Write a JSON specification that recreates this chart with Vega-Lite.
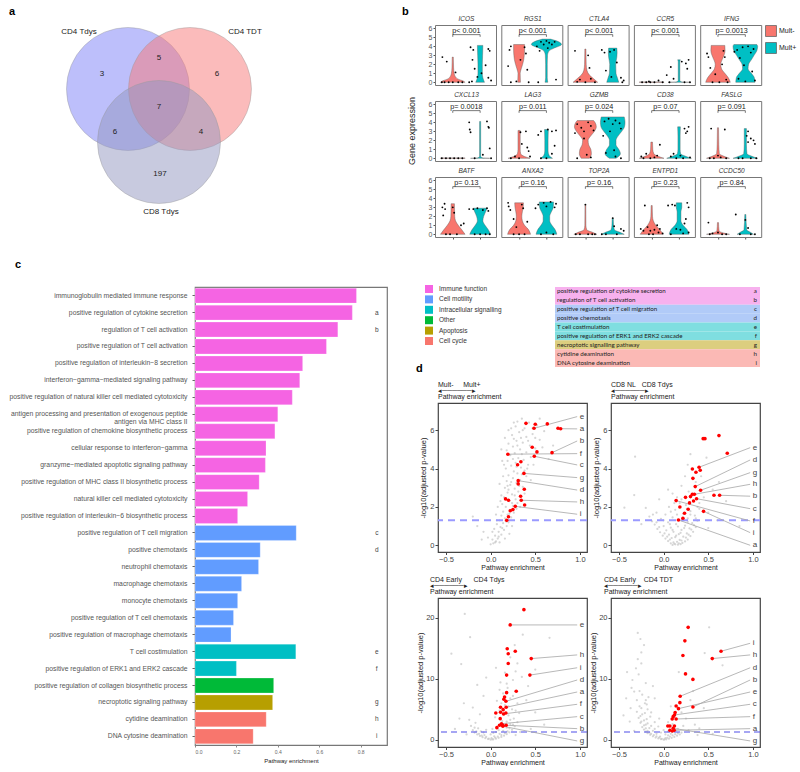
{
"$schema":"https://vega.github.io/schema/vega-lite/v6.json",
"padding":{"left":8,"top":0,"right":0,"bottom":0},
"background":"white",
"config":{
 "font":"Liberation Sans",
 "view":{"stroke":null},
 "axis":{"labelFont":"Liberation Sans","titleFont":"Liberation Sans","grid":false,"labelOverlap":false},
 "legend":{"labelFont":"Liberation Sans","titleFont":"Liberation Sans"},
 "header":{"labels":false,"title":null},
 "headerFacet":{"labels":false,"title":null},
 "title":{"font":"Liberation Sans","fontSize":11,"fontWeight":"bold","anchor":"start","frame":"group","color":"#000"}
},
"datasets":{
 "g1":[{"x":0.0,"y":0.05},{"x":0.03,"y":0.1},{"x":0.06,"y":0.2},{"x":0.02,"y":0.3},{"x":0.08,"y":0.35},{"x":0.1,"y":0.15},{"x":-0.03,"y":0.4},{"x":0.05,"y":0.5},{"x":0.12,"y":0.55},{"x":-0.08,"y":0.7},{"x":0.09,"y":0.7},{"x":0.15,"y":0.8},{"x":0.04,"y":0.85},{"x":0.11,"y":0.95},{"x":0.18,"y":1.0},{"x":-0.15,"y":1.0},{"x":0.07,"y":1.1},{"x":0.14,"y":1.15},{"x":0.2,"y":1.2},{"x":0.1,"y":1.3},{"x":0.16,"y":1.4},{"x":0.23,"y":1.45},{"x":0.12,"y":1.55},{"x":0.19,"y":1.6},{"x":0.26,"y":1.7},{"x":0.14,"y":1.75},{"x":0.22,"y":1.85},{"x":0.29,"y":1.9},{"x":0.17,"y":2.0},{"x":0.25,"y":2.05},{"x":0.13,"y":2.15},{"x":0.3,"y":2.2},{"x":0.21,"y":2.3},{"x":0.28,"y":2.4},{"x":0.15,"y":2.5},{"x":0.34,"y":2.55},{"x":0.24,"y":2.65},{"x":0.19,"y":2.75},{"x":0.31,"y":2.8},{"x":0.27,"y":2.95},{"x":0.16,"y":3.0},{"x":0.36,"y":3.05},{"x":0.22,"y":3.15},{"x":0.29,"y":3.25},{"x":0.18,"y":3.35},{"x":0.33,"y":3.4},{"x":0.25,"y":3.5},{"x":0.4,"y":3.6},{"x":0.2,"y":3.65},{"x":0.3,"y":3.75},{"x":0.26,"y":3.85},{"x":0.38,"y":3.9},{"x":0.17,"y":4.0},{"x":0.34,"y":4.05},{"x":0.23,"y":4.15},{"x":0.42,"y":4.2},{"x":0.28,"y":4.3},{"x":0.19,"y":4.4},{"x":0.37,"y":4.45},{"x":0.31,"y":4.55},{"x":0.45,"y":4.6},{"x":0.22,"y":4.7},{"x":0.27,"y":4.8},{"x":0.4,"y":4.85},{"x":0.18,"y":4.95},{"x":0.33,"y":5.0},{"x":0.5,"y":5.05},{"x":0.25,"y":5.15},{"x":0.44,"y":5.2},{"x":0.2,"y":5.3},{"x":0.36,"y":5.35},{"x":0.29,"y":5.45},{"x":0.55,"y":5.5},{"x":0.16,"y":5.6},{"x":0.4,"y":5.65},{"x":0.24,"y":5.75},{"x":0.47,"y":5.8},{"x":0.32,"y":5.9},{"x":0.6,"y":5.95},{"x":0.2,"y":6.0},{"x":0.38,"y":6.1},{"x":0.28,"y":6.2},{"x":0.52,"y":6.25},{"x":0.43,"y":6.4},{"x":0.35,"y":6.6},{"x":0.7,"y":5.2},{"x":0.65,"y":4.5},{"x":-0.2,"y":1.5},{"x":-0.1,"y":0.3},{"x":0.55,"y":6.6},{"x":0.12,"y":5.0},{"x":0.1,"y":3.2},{"x":0.08,"y":2.0},{"x":0.21,"y":0.6},{"x":0.24,"y":1.0},{"x":0.06,"y":1.6},{"x":0.33,"y":2.0},{"x":0.12,"y":2.6},{"x":0.38,"y":2.7},{"x":0.14,"y":3.6},{"x":0.45,"y":3.4},{"x":0.13,"y":4.4},{"x":0.48,"y":4.2},{"x":0.26,"y":6.4},{"x":0.58,"y":5.1},
  {"x":0.05,"y":0.15},{"x":0.09,"y":0.45},{"x":0.13,"y":0.9},{"x":0.17,"y":1.25},{"x":0.21,"y":1.65},{"x":0.24,"y":2.2},{"x":0.27,"y":2.6},{"x":0.2,"y":2.9},{"x":0.32,"y":3.1},{"x":0.23,"y":3.3},{"x":0.35,"y":3.7},{"x":0.29,"y":4.1},{"x":0.25,"y":4.5},{"x":0.35,"y":4.75},{"x":0.3,"y":5.2},{"x":0.42,"y":5.45},{"x":0.26,"y":5.55},{"x":0.36,"y":6.0},{"x":0.47,"y":6.1},{"x":0.3,"y":6.45},{"x":0.15,"y":4.2},{"x":0.19,"y":3.1},{"x":0.11,"y":2.3},{"x":0.07,"y":1.3},{"x":0.02,"y":0.7},{"x":0.16,"y":0.35},{"x":0.41,"y":4.0},{"x":0.5,"y":5.6},{"x":0.23,"y":6.1},{"x":0.34,"y":5.6}],
 "r1":[{"x":0.396,"y":6.36},{"x":0.5,"y":6.31},{"x":0.635,"y":6.33},{"x":0.486,"y":6.1},{"x":0.755,"y":6.1},{"x":0.785,"y":6.08},{"x":0.466,"y":5.11},{"x":0.519,"y":4.87},{"x":0.193,"y":4.75},{"x":0.489,"y":4.64},{"x":0.688,"y":4.83},{"x":0.339,"y":4.36},{"x":0.302,"y":4.2},{"x":0.373,"y":3.75},{"x":0.309,"y":3.37},{"x":0.309,"y":3.2},{"x":0.377,"y":2.92},{"x":0.336,"y":2.56},{"x":0.343,"y":2.35},{"x":0.167,"y":2.42},{"x":0.2,"y":2.35},{"x":0.381,"y":2.1},{"x":0.276,"y":2.03},{"x":0.25,"y":1.86},{"x":0.22,"y":1.8},{"x":0.2,"y":1.49},{"x":0.18,"y":1.3}],
 "l1":[{"lab":"e","x":0.486,"y":6.1,"ly":6.71},{"lab":"a","x":0.785,"y":6.08,"ly":6.07},{"lab":"b","x":0.688,"y":4.83,"ly":5.44},{"lab":"f","x":0.193,"y":4.75,"ly":4.78},{"lab":"c","x":0.489,"y":4.64,"ly":4.19},{"lab":"g","x":0.373,"y":3.75,"ly":3.53},{"lab":"d","x":0.309,"y":3.37,"ly":2.88},{"lab":"h","x":0.343,"y":2.35,"ly":2.26},{"lab":"i","x":0.276,"y":2.03,"ly":1.62}],
 "g2":[{"x":0.1,"y":0.02},{"x":0.13,"y":0.05},{"x":0.16,"y":0.03},{"x":0.19,"y":0.06},{"x":0.08,"y":0.1},{"x":0.21,"y":0.12},{"x":0.11,"y":0.15},{"x":0.15,"y":0.18},{"x":0.05,"y":0.22},{"x":0.24,"y":0.2},{"x":0.18,"y":0.28},{"x":0.02,"y":0.35},{"x":0.27,"y":0.3},{"x":0.09,"y":0.38},{"x":0.13,"y":0.42},{"x":0.22,"y":0.45},{"x":-0.01,"y":0.5},{"x":0.3,"y":0.48},{"x":0.06,"y":0.55},{"x":0.17,"y":0.58},{"x":0.26,"y":0.62},{"x":-0.04,"y":0.68},{"x":0.11,"y":0.7},{"x":0.33,"y":0.7},{"x":0.03,"y":0.78},{"x":0.2,"y":0.8},{"x":-0.07,"y":0.85},{"x":0.29,"y":0.88},{"x":0.08,"y":0.92},{"x":0.36,"y":0.95},{"x":0.0,"y":1.0},{"x":0.24,"y":1.02},{"x":-0.1,"y":1.08},{"x":0.14,"y":1.1},{"x":0.32,"y":1.15},{"x":0.05,"y":1.2},{"x":-0.13,"y":1.25},{"x":0.38,"y":1.28},{"x":0.18,"y":1.3},{"x":-0.03,"y":1.38},{"x":0.27,"y":1.4},{"x":0.1,"y":1.45},{"x":-0.16,"y":1.5},{"x":0.35,"y":1.55},{"x":0.02,"y":1.6},{"x":0.22,"y":1.65},{"x":-0.08,"y":1.7},{"x":0.3,"y":1.78},{"x":0.13,"y":1.85},{"x":0.4,"y":1.9},{"x":-0.2,"y":1.95},{"x":0.06,"y":2.0},{"x":0.25,"y":2.1},{"x":0.18,"y":2.2},{"x":0.33,"y":2.3},{"x":-0.05,"y":2.4},{"x":0.45,"y":2.5},{"x":0.1,"y":2.7},{"x":0.28,"y":2.8},{"x":0.5,"y":1.7},{"x":0.62,"y":3.3},{"x":0.7,"y":2.3},{"x":-0.33,"y":2.62},{"x":-0.32,"y":4.62},{"x":-0.44,"y":1.96},{"x":0.3,"y":4.75},{"x":0.48,"y":4.57},{"x":0.24,"y":3.6},{"x":0.36,"y":3.3},{"x":0.2,"y":3.1},{"x":0.42,"y":3.6},{"x":0.55,"y":2.9},{"x":0.15,"y":2.5},{"x":0.6,"y":1.3},{"x":0.85,"y":1.0},{"x":-0.25,"y":1.1},{"x":0.5,"y":0.9},{"x":0.38,"y":2.0},{"x":0.05,"y":2.9},{"x":0.27,"y":4.2},
  {"x":0.12,"y":0.08},{"x":0.17,"y":0.1},{"x":0.2,"y":0.25},{"x":0.07,"y":0.3},{"x":0.25,"y":0.4},{"x":0.14,"y":0.5},{"x":0.04,"y":0.45},{"x":0.28,"y":0.55},{"x":0.19,"y":0.65},{"x":0.01,"y":0.62},{"x":0.1,"y":0.8},{"x":0.31,"y":0.82},{"x":0.23,"y":0.9},{"x":-0.05,"y":0.95},{"x":0.16,"y":0.98},{"x":0.34,"y":1.05},{"x":0.07,"y":1.1},{"x":-0.08,"y":1.2},{"x":0.27,"y":1.22},{"x":0.21,"y":1.35},{"x":0.0,"y":1.3},{"x":0.36,"y":1.4},{"x":0.15,"y":1.6},{"x":-0.12,"y":1.6},{"x":0.3,"y":1.6},{"x":0.08,"y":1.75},{"x":0.26,"y":1.9},{"x":0.2,"y":2.4},{"x":0.4,"y":2.2},{"x":0.12,"y":2.2}],
 "r2":[{"x":0.443,"y":5.56},{"x":0.463,"y":5.56},{"x":0.62,"y":5.72},{"x":0.713,"y":4.8},{"x":0.322,"y":3.98},{"x":0.397,"y":4.07},{"x":0.41,"y":3.91},{"x":0.362,"y":3.81},{"x":0.328,"y":3.49},{"x":0.354,"y":3.06},{"x":0.414,"y":2.87},{"x":0.322,"y":2.66},{"x":0.345,"y":2.66},{"x":0.564,"y":2.61},{"x":0.627,"y":2.61},{"x":0.301,"y":2.54},{"x":0.369,"y":2.43},{"x":0.335,"y":2.31},{"x":0.29,"y":2.21},{"x":0.14,"y":2.33},{"x":0.245,"y":2.5},{"x":0.182,"y":2.0},{"x":0.275,"y":1.88},{"x":0.447,"y":1.77},{"x":0.234,"y":1.67},{"x":0.216,"y":1.41},{"x":0.166,"y":1.32}],
 "l2":[{"lab":"e","x":0.397,"y":4.07,"ly":5.09},{"lab":"d","x":0.354,"y":3.06,"ly":4.45},{"lab":"g","x":0.414,"y":2.87,"ly":3.79},{"lab":"h","x":0.345,"y":2.66,"ly":3.18},{"lab":"b","x":0.627,"y":2.61,"ly":2.56},{"lab":"c","x":0.369,"y":2.43,"ly":1.91},{"lab":"f","x":0.14,"y":2.33,"ly":1.27},{"lab":"i","x":0.447,"y":1.77,"ly":0.66},{"lab":"a","x":0.166,"y":1.32,"ly":0.0}],
 "g3":[{"x":0.0,"y":0.05},{"x":0.03,"y":0.1},{"x":-0.03,"y":0.15},{"x":0.06,"y":0.2},{"x":-0.06,"y":0.3},{"x":0.09,"y":0.35},{"x":-0.09,"y":0.45},{"x":0.12,"y":0.5},{"x":0.01,"y":0.3},{"x":-0.12,"y":0.65},{"x":0.15,"y":0.7},{"x":0.04,"y":0.6},{"x":-0.15,"y":0.9},{"x":0.18,"y":0.95},{"x":-0.07,"y":0.8},{"x":0.1,"y":1.0},{"x":-0.18,"y":1.2},{"x":0.21,"y":1.25},{"x":0.06,"y":1.3},{"x":-0.11,"y":1.4},{"x":0.14,"y":1.5},{"x":-0.2,"y":1.6},{"x":0.24,"y":1.65},{"x":0.02,"y":1.8},{"x":-0.14,"y":1.9},{"x":0.18,"y":2.0},{"x":0.27,"y":2.2},{"x":-0.22,"y":2.3},{"x":0.09,"y":2.4},{"x":0.22,"y":2.6},{"x":-0.17,"y":2.8},{"x":0.3,"y":2.9},{"x":0.13,"y":3.1},{"x":-0.24,"y":3.3},{"x":0.26,"y":3.5},{"x":0.05,"y":3.7},{"x":0.2,"y":4.0},{"x":-0.12,"y":4.2},{"x":0.32,"y":4.4},{"x":0.1,"y":4.8},{"x":0.24,"y":5.0},{"x":-0.2,"y":5.3},{"x":0.16,"y":5.7},{"x":0.3,"y":6.0},{"x":0.07,"y":6.4},{"x":0.22,"y":6.8},{"x":-0.08,"y":7.2},{"x":0.14,"y":7.6},{"x":0.28,"y":8.0},{"x":0.19,"y":8.5},{"x":-0.15,"y":9.0},{"x":0.11,"y":9.4},{"x":0.25,"y":9.8},{"x":0.35,"y":10.3},{"x":0.16,"y":11.0},{"x":0.06,"y":11.8},{"x":0.3,"y":12.5},{"x":0.22,"y":13.5},{"x":-0.33,"y":12.4},{"x":-0.44,"y":14.1},{"x":-0.23,"y":16.8},{"x":-0.29,"y":20.6},{"x":0.36,"y":17.2},{"x":0.66,"y":16.7},{"x":0.27,"y":15.5},{"x":0.5,"y":11.5},{"x":0.42,"y":8.8},{"x":-0.05,"y":10.2},{"x":0.4,"y":6.5},{"x":0.5,"y":4.5},{"x":-0.3,"y":6.0},{"x":-0.35,"y":3.5},{"x":0.6,"y":2.5},{"x":-0.4,"y":1.8},{"x":0.33,"y":1.3},{"x":0.45,"y":1.8},{"x":-0.27,"y":0.9},{"x":0.28,"y":0.8},
  {"x":0.02,"y":0.08},{"x":-0.02,"y":0.2},{"x":0.05,"y":0.4},{"x":-0.05,"y":0.5},{"x":0.08,"y":0.55},{"x":-0.1,"y":0.7},{"x":0.12,"y":0.8},{"x":0.0,"y":0.9},{"x":-0.13,"y":1.0},{"x":0.16,"y":1.1},{"x":0.03,"y":1.15},{"x":-0.08,"y":1.2},{"x":0.19,"y":1.4},{"x":-0.16,"y":1.4},{"x":0.09,"y":1.6},{"x":-0.05,"y":1.65},{"x":0.21,"y":1.9},{"x":-0.18,"y":2.0},{"x":0.15,"y":2.3},{"x":0.25,"y":2.5},{"x":0.18,"y":3.0},{"x":0.22,"y":3.3},{"x":0.15,"y":4.2},{"x":0.28,"y":4.8},{"x":0.2,"y":5.5},{"x":0.12,"y":6.0},{"x":0.25,"y":7.2},{"x":0.1,"y":8.2},{"x":0.18,"y":9.2},{"x":0.28,"y":11.2}],
 "r3":[{"x":0.373,"y":21.3},{"x":0.219,"y":18.8},{"x":0.186,"y":14.9},{"x":0.276,"y":14.5},{"x":0.197,"y":14.1},{"x":0.197,"y":12.5},{"x":0.455,"y":13.3},{"x":0.44,"y":10.6},{"x":0.179,"y":10.6},{"x":0.287,"y":7.95},{"x":0.179,"y":7.73},{"x":0.156,"y":7.03},{"x":0.148,"y":6.65},{"x":0.171,"y":6.32},{"x":0.111,"y":5.34},{"x":0.174,"y":5.34},{"x":0.14,"y":4.95},{"x":0.058,"y":4.41},{"x":0.111,"y":4.52},{"x":0.145,"y":4.25},{"x":0.171,"y":4.41},{"x":0.107,"y":3.48},{"x":0.122,"y":2.66},{"x":0.137,"y":2.4},{"x":0.174,"y":2.4},{"x":0.1,"y":2.4},{"x":0.07,"y":2.01},{"x":0.137,"y":2.24}],
 "l3":[{"lab":"e","x":0.219,"y":18.8,"ly":18.8},{"lab":"h","x":0.455,"y":13.3,"ly":13.9},{"lab":"i","x":0.44,"y":10.6,"ly":11.8},{"lab":"d","x":0.171,"y":6.32,"ly":9.8},{"lab":"a","x":0.174,"y":5.34,"ly":7.84},{"lab":"f","x":0.145,"y":4.25,"ly":5.83},{"lab":"c","x":0.122,"y":2.66,"ly":3.81},{"lab":"b","x":0.174,"y":2.4,"ly":1.85},{"lab":"g","x":0.137,"y":2.24,"ly":-0.16}],
 "g4":[{"x":0.0,"y":0.05},{"x":0.03,"y":0.1},{"x":-0.03,"y":0.12},{"x":0.06,"y":0.2},{"x":-0.06,"y":0.25},{"x":0.09,"y":0.35},{"x":-0.09,"y":0.4},{"x":0.12,"y":0.5},{"x":0.02,"y":0.3},{"x":-0.12,"y":0.6},{"x":0.15,"y":0.7},{"x":-0.04,"y":0.55},{"x":-0.15,"y":0.85},{"x":0.18,"y":0.9},{"x":0.05,"y":0.75},{"x":-0.18,"y":1.1},{"x":0.08,"y":1.0},{"x":-0.08,"y":1.0},{"x":0.2,"y":1.2},{"x":-0.2,"y":1.35},{"x":-0.12,"y":1.5},{"x":0.12,"y":1.45},{"x":-0.22,"y":1.7},{"x":0.0,"y":1.6},{"x":-0.16,"y":1.95},{"x":0.16,"y":1.8},{"x":-0.24,"y":2.1},{"x":-0.06,"y":2.2},{"x":-0.2,"y":2.5},{"x":0.22,"y":2.3},{"x":-0.26,"y":2.8},{"x":-0.1,"y":2.9},{"x":-0.22,"y":3.2},{"x":-0.28,"y":3.6},{"x":-0.15,"y":3.8},{"x":-0.24,"y":4.2},{"x":-0.3,"y":4.6},{"x":-0.18,"y":5.0},{"x":-0.27,"y":5.5},{"x":-0.21,"y":6.0},{"x":-0.19,"y":5.8},{"x":-0.3,"y":6.5},{"x":-0.24,"y":7.4},{"x":-0.17,"y":7.0},{"x":-0.33,"y":7.9},{"x":-0.36,"y":8.5},{"x":-0.2,"y":9.3},{"x":-0.28,"y":10.7},{"x":-0.31,"y":11.7},{"x":-0.41,"y":11.1},{"x":-0.25,"y":12.5},{"x":-0.29,"y":13.2},{"x":-0.25,"y":14.3},{"x":-0.26,"y":16.5},{"x":-0.29,"y":17.5},{"x":-0.22,"y":15.5},{"x":-0.35,"y":9.8},{"x":-0.14,"y":4.5},{"x":0.17,"y":11.1},{"x":0.46,"y":14.2},{"x":0.51,"y":18.4},{"x":0.66,"y":12.2},{"x":0.3,"y":6.5},{"x":0.25,"y":3.5},{"x":0.35,"y":2.5},{"x":0.1,"y":2.6},{"x":0.28,"y":1.6},{"x":0.4,"y":1.9},{"x":-0.45,"y":4.0},{"x":-0.38,"y":3.0},{"x":0.05,"y":2.9},{"x":0.2,"y":4.5},{"x":0.55,"y":1.0},{"x":-0.33,"y":1.5},{"x":0.38,"y":0.8},{"x":-0.1,"y":6.8},{"x":-0.12,"y":8.8},{"x":-0.05,"y":3.5},{"x":0.12,"y":3.8},{"x":-0.37,"y":5.2},{"x":-0.42,"y":6.8},{"x":0.33,"y":8.0},{"x":0.08,"y":5.5},{"x":0.45,"y":5.2},
  {"x":0.01,"y":0.08},{"x":-0.02,"y":0.18},{"x":0.04,"y":0.35},{"x":-0.05,"y":0.4},{"x":0.07,"y":0.55},{"x":-0.08,"y":0.6},{"x":0.1,"y":0.75},{"x":-0.11,"y":0.8},{"x":0.13,"y":0.95},{"x":-0.14,"y":1.0},{"x":0.02,"y":0.9},{"x":-0.03,"y":1.2},{"x":0.16,"y":1.1},{"x":-0.16,"y":1.2},{"x":0.1,"y":1.3},{"x":-0.18,"y":1.5},{"x":0.05,"y":1.4},{"x":-0.1,"y":1.8},{"x":0.14,"y":1.6},{"x":-0.2,"y":1.9},{"x":-0.14,"y":2.3},{"x":-0.22,"y":2.4},{"x":-0.18,"y":2.7},{"x":-0.25,"y":3.0},{"x":-0.19,"y":3.4},{"x":-0.26,"y":3.9},{"x":-0.21,"y":4.4},{"x":-0.25,"y":5.2},{"x":-0.2,"y":6.5},{"x":-0.27,"y":8.0}],
 "r4":[{"x":0.275,"y":18.4},{"x":0.238,"y":16.2},{"x":0.643,"y":14.5},{"x":0.216,"y":13.8},{"x":0.545,"y":13.3},{"x":0.245,"y":10.8},{"x":0.328,"y":9.9},{"x":0.185,"y":7.14},{"x":0.182,"y":6.1},{"x":0.14,"y":5.56},{"x":0.166,"y":5.12},{"x":0.328,"y":5.39},{"x":0.129,"y":4.47},{"x":0.121,"y":4.08},{"x":0.107,"y":3.81},{"x":0.14,"y":3.43},{"x":0.096,"y":3.43},{"x":0.121,"y":2.29},{"x":0.047,"y":2.29},{"x":0.07,"y":2.29},{"x":0.107,"y":1.91},{"x":0.07,"y":1.58},{"x":0.118,"y":1.58},{"x":0.096,"y":1.47}],
 "l4":[{"lab":"i","x":0.643,"y":14.5,"ly":15.8},{"lab":"h","x":0.545,"y":13.3,"ly":13.9},{"lab":"d","x":0.185,"y":7.14,"ly":11.8},{"lab":"b","x":0.328,"y":5.39,"ly":9.8},{"lab":"e","x":0.166,"y":5.12,"ly":7.84},{"lab":"c","x":0.121,"y":4.08,"ly":5.83},{"lab":"f","x":0.14,"y":3.43,"ly":3.81},{"lab":"a","x":0.118,"y":1.58,"ly":1.85},{"lab":"g","x":0.107,"y":1.91,"ly":-0.16}]
},
"hconcat":[
 {
  "vconcat":[
   {
    "width":192,"height":250,
    "title":{"text":"a","dx":-186,"dy":17,"offset":0},
    "data":{"values":[
     {"k":"c","s":"CD4 Tdys","x":2.048,"y":1.435},
     {"k":"c","s":"CD4 TDT","x":3.048,"y":1.435},
     {"k":"c","s":"CD8 Tdys","x":2.548,"y":2.29},
     {"k":"t","s":"CD4 Tdys","x":1.258,"y":0.516},
     {"k":"t","s":"CD4 TDT","x":3.935,"y":0.516},
     {"k":"t","s":"CD8 Tdys","x":2.58,"y":3.42},
     {"k":"n","s":"3","x":1.629,"y":1.194},
     {"k":"n","s":"5","x":2.548,"y":0.935},
     {"k":"n","s":"6","x":3.484,"y":1.194},
     {"k":"n","s":"7","x":2.548,"y":1.726},
     {"k":"n","s":"6","x":1.839,"y":2.129},
     {"k":"n","s":"4","x":3.226,"y":2.129},
     {"k":"n","s":"197","x":2.565,"y":2.806}
    ]},
    "layer":[
     {"transform":[{"filter":"datum.k=='c'"}],
      "mark":{"type":"point","shape":"circle","filled":true,"size":15129,"fillOpacity":0.5,"stroke":"#9a9a9a","strokeWidth":0.6,"strokeOpacity":0.7,"clip":false},
      "encoding":{
       "x":{"field":"x","type":"quantitative","scale":{"domain":[3.129,6.226],"nice":false,"zero":false},"axis":null},
       "y":{"field":"y","type":"quantitative","scale":{"domain":[0,4.032],"reverse":true,"nice":false,"zero":false},"axis":null},
       "color":{"field":"s","type":"nominal","scale":{"domain":["CD4 Tdys","CD4 TDT","CD8 Tdys"],"range":["#7b7ff7","#f77777","#9195bf"]},"legend":null}
      }},
     {"transform":[{"filter":"datum.k!='c'"}],
      "mark":{"type":"text","fontSize":8,"color":"#222","baseline":"middle","clip":false},
      "encoding":{
       "x":{"field":"x","type":"quantitative"},
       "y":{"field":"y","type":"quantitative"},
       "text":{"field":"s"}
      }}
    ]
   },
   {
    "width":192,"height":458,
    "title":{"text":"c","dx":-180,"offset":17},
    "view":{"stroke":"#777","strokeWidth":1.2},
    "data":{"values":[
     {"term":"immunoglobulin mediated immune response","cat":"Immune function","v":0.78,"lab":""},
     {"term":"positive regulation of cytokine secretion","cat":"Immune function","v":0.76,"lab":"a"},
     {"term":"regulation of T cell activation","cat":"Immune function","v":0.69,"lab":"b"},
     {"term":"positive regulation of T cell activation","cat":"Immune function","v":0.635,"lab":""},
     {"term":"positive regulation of interleukin−8 secretion","cat":"Immune function","v":0.52,"lab":""},
     {"term":"interferon−gamma−mediated signaling pathway","cat":"Immune function","v":0.506,"lab":""},
     {"term":"positive regulation of natural killer cell mediated cytotoxicity","cat":"Immune function","v":0.47,"lab":""},
     {"term":"antigen processing and presentation of exogenous peptide\nantigen via MHC class II","cat":"Immune function","v":0.4,"lab":""},
     {"term":"positive regulation of chemokine biosynthetic process","cat":"Immune function","v":0.386,"lab":""},
     {"term":"cellular response to interferon−gamma","cat":"Immune function","v":0.343,"lab":""},
     {"term":"granzyme−mediated apoptotic signaling pathway","cat":"Immune function","v":0.34,"lab":""},
     {"term":"positive regulation of MHC class II biosynthetic process","cat":"Immune function","v":0.31,"lab":""},
     {"term":"natural killer cell mediated cytotoxicity","cat":"Immune function","v":0.254,"lab":""},
     {"term":"positive regulation of interleukin−6 biosynthetic process","cat":"Immune function","v":0.206,"lab":""},
     {"term":"positive regulation of T cell migration","cat":"Cell motility","v":0.489,"lab":"c"},
     {"term":"positive chemotaxis","cat":"Cell motility","v":0.315,"lab":"d"},
     {"term":"neutrophil chemotaxis","cat":"Cell motility","v":0.307,"lab":""},
     {"term":"macrophage chemotaxis","cat":"Cell motility","v":0.225,"lab":""},
     {"term":"monocyte chemotaxis","cat":"Cell motility","v":0.206,"lab":""},
     {"term":"positive regulation of T cell chemotaxis","cat":"Cell motility","v":0.186,"lab":""},
     {"term":"positive regulation of macrophage chemotaxis","cat":"Cell motility","v":0.174,"lab":""},
     {"term":"T cell costimulation","cat":"Intracellular signalling","v":0.487,"lab":"e"},
     {"term":"positive regulation of ERK1 and ERK2 cascade","cat":"Intracellular signalling","v":0.2,"lab":"f"},
     {"term":"positive regulation of collagen biosynthetic process","cat":"Other","v":0.38,"lab":""},
     {"term":"necroptotic signaling pathway","cat":"Apoptosis","v":0.375,"lab":"g"},
     {"term":"cytidine deamination","cat":"Cell cycle","v":0.344,"lab":"h"},
     {"term":"DNA cytosine deamination","cat":"Cell cycle","v":0.281,"lab":"i"}
    ]},
    "layer":[
     {"mark":{"type":"bar","stroke":"white","strokeWidth":0.4,"strokeOpacity":0.6},
      "encoding":{
       "y":{"field":"term","type":"nominal","sort":null,"scale":{"paddingInner":0.12,"paddingOuter":0.07},
            "axis":{"title":null,"labelFontSize":6.8,"labelColor":"#555","labelLimit":400,"tickSize":3,"tickColor":"#666","domain":false,"labelPadding":5,"labelLineHeight":8,"labelExpr":"split(datum.label, '\\n')"}},
       "x":{"field":"v","type":"quantitative","scale":{"domain":[0,0.9275],"nice":false,"zero":false},
            "axis":{"values":[0,0.2,0.4,0.6,0.8],"format":".1f","labelFontSize":5,"labelColor":"#666","tickSize":2,"tickColor":"#888","domain":false,"title":"Pathway enrichment","titleFontSize":6,"titleFontWeight":"normal","titleColor":"#222","titlePadding":3,"labelPadding":2}},
       "color":{"field":"cat","type":"nominal","scale":{"domain":["Immune function","Cell motility","Intracellular signalling","Other","Apoptosis","Cell cycle"],"range":["#F564E3","#619CFF","#00BFC4","#00BA38","#B79F00","#F8766D"]},"legend":null}
      }},
     {"mark":{"type":"text","fontSize":6.5,"color":"#444","baseline":"middle"},
      "encoding":{
       "y":{"field":"term","type":"nominal","sort":null},
       "x":{"datum":0.878},
       "text":{"field":"lab"}
      }}
    ]
   }
  ],
  "spacing":8,"bounds":"full",
  "resolve":{"scale":{"color":"independent"},"legend":{"color":"independent"}}
 },
 {
  "vconcat":[
   {"data":{"values":[{}]},"mark":{"type":"point","opacity":0,"size":1},"width":1,"height":4},
   {
    "hconcat":[
     {"width":46,"height":212,"title":{"text":"b","dx":13,"offset":7},
      "data":{"values":[{"t":"Gene expression"}]},
      "mark":{"type":"text","angle":270,"fontSize":9,"color":"#222","baseline":"middle"},
      "encoding":{
       "text":{"field":"t"},
       "y":{"datum":11.48,"type":"quantitative","scale":{"domain":[-0.3,23.259],"nice":false,"zero":false},
            "axis":{"orient":"left","offset":-46,"values":[0,1,2,3,4,5,6,8.444,9.444,10.444,11.444,12.444,13.444,14.444,16.889,17.889,18.889,19.889,20.889,21.889,22.889],
                    "labelExpr":"datum.value > 16 ? format(datum.value - 16.889, '.0f') : (datum.value > 8 ? format(datum.value - 8.444, '.0f') : format(datum.value, '.0f'))",
                    "labelOverlap":false,"labelFontSize":7,"labelColor":"#555","tickSize":2,"tickColor":"#555","domain":false,"grid":false,"title":null,"labelPadding":1}}
      }},
     {
      "data":{"values":[
       {"t":"s","g":"ICOS","pv":"p< 0.001"},{"t":"s","g":"RGS1","pv":"p< 0.001"},{"t":"s","g":"CTLA4","pv":"p< 0.001"},{"t":"s","g":"CCR5","pv":"p< 0.001"},{"t":"s","g":"IFNG","pv":"p= 0.0013"},
       {"t":"s","g":"CXCL13","pv":"p= 0.0018"},{"t":"s","g":"LAG3","pv":"p= 0.011"},{"t":"s","g":"GZMB","pv":"p= 0.024"},{"t":"s","g":"CD38","pv":"p= 0.07"},{"t":"s","g":"FASLG","pv":"p= 0.091"},
       {"t":"s","g":"BATF","pv":"p= 0.13"},{"t":"s","g":"ANXA2","pv":"p= 0.16"},{"t":"s","g":"TOP2A","pv":"p= 0.16"},{"t":"s","g":"ENTPD1","pv":"p= 0.23"},{"t":"s","g":"CCDC50","pv":"p= 0.84"},
       {"t":"v","g":"ICOS","grp":"Mult-","y":0,"lo":0.55,"hi":1.45},{"t":"v","g":"ICOS","grp":"Mult-","y":0.15,"lo":0.62,"hi":1.38},{"t":"v","g":"ICOS","grp":"Mult-","y":0.35,"lo":0.8,"hi":1.2},{"t":"v","g":"ICOS","grp":"Mult-","y":0.6,"lo":0.9,"hi":1.1},{"t":"v","g":"ICOS","grp":"Mult-","y":1,"lo":0.95,"hi":1.05},{"t":"v","g":"ICOS","grp":"Mult-","y":1.6,"lo":0.97,"hi":1.03},{"t":"v","g":"ICOS","grp":"Mult-","y":2.8,"lo":0.98,"hi":1.02},
       {"t":"v","g":"ICOS","grp":"Mult+","y":0,"lo":1.84,"hi":2.16},{"t":"v","g":"ICOS","grp":"Mult+","y":0.5,"lo":1.9,"hi":2.1},{"t":"v","g":"ICOS","grp":"Mult+","y":1,"lo":1.92,"hi":2.08},{"t":"v","g":"ICOS","grp":"Mult+","y":2,"lo":1.92,"hi":2.08},{"t":"v","g":"ICOS","grp":"Mult+","y":3,"lo":1.91,"hi":2.09},{"t":"v","g":"ICOS","grp":"Mult+","y":4.1,"lo":1.9,"hi":2.1},
       {"t":"v","g":"RGS1","grp":"Mult-","y":0,"lo":0.95,"hi":1.05},{"t":"v","g":"RGS1","grp":"Mult-","y":1,"lo":0.96,"hi":1.04},{"t":"v","g":"RGS1","grp":"Mult-","y":1.5,"lo":0.92,"hi":1.08},{"t":"v","g":"RGS1","grp":"Mult-","y":2,"lo":0.87,"hi":1.13},{"t":"v","g":"RGS1","grp":"Mult-","y":2.5,"lo":0.83,"hi":1.17},{"t":"v","g":"RGS1","grp":"Mult-","y":3,"lo":0.81,"hi":1.19},{"t":"v","g":"RGS1","grp":"Mult-","y":3.5,"lo":0.8,"hi":1.2},{"t":"v","g":"RGS1","grp":"Mult-","y":4.2,"lo":0.8,"hi":1.2},
       {"t":"v","g":"RGS1","grp":"Mult+","y":0,"lo":1.95,"hi":2.05},{"t":"v","g":"RGS1","grp":"Mult+","y":0.5,"lo":1.97,"hi":2.03},{"t":"v","g":"RGS1","grp":"Mult+","y":2,"lo":1.97,"hi":2.03},{"t":"v","g":"RGS1","grp":"Mult+","y":3,"lo":1.96,"hi":2.04},{"t":"v","g":"RGS1","grp":"Mult+","y":3.5,"lo":1.9,"hi":2.1},{"t":"v","g":"RGS1","grp":"Mult+","y":3.8,"lo":1.72,"hi":2.28},{"t":"v","g":"RGS1","grp":"Mult+","y":4.2,"lo":1.45,"hi":2.55},{"t":"v","g":"RGS1","grp":"Mult+","y":4.5,"lo":1.55,"hi":2.45},{"t":"v","g":"RGS1","grp":"Mult+","y":4.8,"lo":1.85,"hi":2.15},
       {"t":"v","g":"CTLA4","grp":"Mult-","y":0,"lo":0.55,"hi":1.45},{"t":"v","g":"CTLA4","grp":"Mult-","y":0.4,"lo":0.7,"hi":1.3},{"t":"v","g":"CTLA4","grp":"Mult-","y":0.8,"lo":0.85,"hi":1.15},{"t":"v","g":"CTLA4","grp":"Mult-","y":1.3,"lo":0.94,"hi":1.06},{"t":"v","g":"CTLA4","grp":"Mult-","y":2,"lo":0.97,"hi":1.03},{"t":"v","g":"CTLA4","grp":"Mult-","y":3.7,"lo":0.98,"hi":1.02},
       {"t":"v","g":"CTLA4","grp":"Mult+","y":0,"lo":1.78,"hi":2.22},{"t":"v","g":"CTLA4","grp":"Mult+","y":0.5,"lo":1.83,"hi":2.17},{"t":"v","g":"CTLA4","grp":"Mult+","y":1,"lo":1.88,"hi":2.12},{"t":"v","g":"CTLA4","grp":"Mult+","y":2,"lo":1.89,"hi":2.11},{"t":"v","g":"CTLA4","grp":"Mult+","y":2.8,"lo":1.85,"hi":2.15},{"t":"v","g":"CTLA4","grp":"Mult+","y":3.3,"lo":1.84,"hi":2.16},{"t":"v","g":"CTLA4","grp":"Mult+","y":3.8,"lo":1.85,"hi":2.15},
       {"t":"v","g":"CCR5","grp":"Mult-","y":0,"lo":0.55,"hi":1.45},{"t":"v","g":"CCR5","grp":"Mult-","y":0.04,"lo":0.55,"hi":1.45},
       {"t":"v","g":"CCR5","grp":"Mult+","y":0,"lo":1.6,"hi":2.4},{"t":"v","g":"CCR5","grp":"Mult+","y":0.04,"lo":1.9,"hi":2.1},{"t":"v","g":"CCR5","grp":"Mult+","y":0.2,"lo":1.97,"hi":2.03},{"t":"v","g":"CCR5","grp":"Mult+","y":2.3,"lo":1.97,"hi":2.03},{"t":"v","g":"CCR5","grp":"Mult+","y":2.5,"lo":1.95,"hi":2.05},
       {"t":"v","g":"IFNG","grp":"Mult-","y":0,"lo":0.55,"hi":1.45},{"t":"v","g":"IFNG","grp":"Mult-","y":0.5,"lo":0.62,"hi":1.38},{"t":"v","g":"IFNG","grp":"Mult-","y":1,"lo":0.75,"hi":1.25},{"t":"v","g":"IFNG","grp":"Mult-","y":1.5,"lo":0.87,"hi":1.13},{"t":"v","g":"IFNG","grp":"Mult-","y":2,"lo":0.9,"hi":1.1},{"t":"v","g":"IFNG","grp":"Mult-","y":2.5,"lo":0.85,"hi":1.15},{"t":"v","g":"IFNG","grp":"Mult-","y":3,"lo":0.78,"hi":1.22},{"t":"v","g":"IFNG","grp":"Mult-","y":3.5,"lo":0.74,"hi":1.26},{"t":"v","g":"IFNG","grp":"Mult-","y":4.1,"lo":0.75,"hi":1.25},
       {"t":"v","g":"IFNG","grp":"Mult+","y":0,"lo":1.65,"hi":2.35},{"t":"v","g":"IFNG","grp":"Mult+","y":0.5,"lo":1.67,"hi":2.33},{"t":"v","g":"IFNG","grp":"Mult+","y":1,"lo":1.78,"hi":2.22},{"t":"v","g":"IFNG","grp":"Mult+","y":1.5,"lo":1.9,"hi":2.1},{"t":"v","g":"IFNG","grp":"Mult+","y":2,"lo":1.88,"hi":2.12},{"t":"v","g":"IFNG","grp":"Mult+","y":2.5,"lo":1.78,"hi":2.22},{"t":"v","g":"IFNG","grp":"Mult+","y":3,"lo":1.68,"hi":2.32},{"t":"v","g":"IFNG","grp":"Mult+","y":3.5,"lo":1.58,"hi":2.42},{"t":"v","g":"IFNG","grp":"Mult+","y":4,"lo":1.55,"hi":2.45},{"t":"v","g":"IFNG","grp":"Mult+","y":4.2,"lo":1.58,"hi":2.42},
       {"t":"v","g":"CXCL13","grp":"Mult-","y":0,"lo":0.55,"hi":1.45},{"t":"v","g":"CXCL13","grp":"Mult-","y":0.04,"lo":0.55,"hi":1.45},
       {"t":"v","g":"CXCL13","grp":"Mult+","y":0,"lo":1.65,"hi":2.35},{"t":"v","g":"CXCL13","grp":"Mult+","y":0.04,"lo":1.9,"hi":2.1},{"t":"v","g":"CXCL13","grp":"Mult+","y":0.2,"lo":1.98,"hi":2.02},{"t":"v","g":"CXCL13","grp":"Mult+","y":4.1,"lo":1.98,"hi":2.02},
       {"t":"v","g":"LAG3","grp":"Mult-","y":0,"lo":0.6,"hi":1.4},{"t":"v","g":"LAG3","grp":"Mult-","y":0.2,"lo":0.8,"hi":1.2},{"t":"v","g":"LAG3","grp":"Mult-","y":0.5,"lo":0.94,"hi":1.06},{"t":"v","g":"LAG3","grp":"Mult-","y":1,"lo":0.96,"hi":1.04},{"t":"v","g":"LAG3","grp":"Mult-","y":3.1,"lo":0.96,"hi":1.04},
       {"t":"v","g":"LAG3","grp":"Mult+","y":0,"lo":1.78,"hi":2.22},{"t":"v","g":"LAG3","grp":"Mult+","y":0.3,"lo":1.9,"hi":2.1},{"t":"v","g":"LAG3","grp":"Mult+","y":0.8,"lo":1.94,"hi":2.06},{"t":"v","g":"LAG3","grp":"Mult+","y":2,"lo":1.94,"hi":2.06},{"t":"v","g":"LAG3","grp":"Mult+","y":3.2,"lo":1.93,"hi":2.07},
       {"t":"v","g":"GZMB","grp":"Mult-","y":0,"lo":0.85,"hi":1.15},{"t":"v","g":"GZMB","grp":"Mult-","y":0.5,"lo":0.78,"hi":1.22},{"t":"v","g":"GZMB","grp":"Mult-","y":1,"lo":0.8,"hi":1.2},{"t":"v","g":"GZMB","grp":"Mult-","y":1.5,"lo":0.88,"hi":1.12},{"t":"v","g":"GZMB","grp":"Mult-","y":2,"lo":0.9,"hi":1.1},{"t":"v","g":"GZMB","grp":"Mult-","y":2.5,"lo":0.8,"hi":1.2},{"t":"v","g":"GZMB","grp":"Mult-","y":3,"lo":0.67,"hi":1.33},{"t":"v","g":"GZMB","grp":"Mult-","y":3.5,"lo":0.6,"hi":1.4},{"t":"v","g":"GZMB","grp":"Mult-","y":4,"lo":0.65,"hi":1.35},{"t":"v","g":"GZMB","grp":"Mult-","y":4.2,"lo":0.7,"hi":1.3},
       {"t":"v","g":"GZMB","grp":"Mult+","y":0,"lo":1.88,"hi":2.12},{"t":"v","g":"GZMB","grp":"Mult+","y":0.5,"lo":1.72,"hi":2.28},{"t":"v","g":"GZMB","grp":"Mult+","y":1,"lo":1.78,"hi":2.22},{"t":"v","g":"GZMB","grp":"Mult+","y":1.5,"lo":1.88,"hi":2.12},{"t":"v","g":"GZMB","grp":"Mult+","y":2,"lo":1.88,"hi":2.12},{"t":"v","g":"GZMB","grp":"Mult+","y":2.5,"lo":1.8,"hi":2.2},{"t":"v","g":"GZMB","grp":"Mult+","y":3,"lo":1.67,"hi":2.33},{"t":"v","g":"GZMB","grp":"Mult+","y":3.5,"lo":1.57,"hi":2.43},{"t":"v","g":"GZMB","grp":"Mult+","y":4,"lo":1.55,"hi":2.45},{"t":"v","g":"GZMB","grp":"Mult+","y":4.6,"lo":1.58,"hi":2.42},
       {"t":"v","g":"CD38","grp":"Mult-","y":0,"lo":0.55,"hi":1.45},{"t":"v","g":"CD38","grp":"Mult-","y":0.25,"lo":0.78,"hi":1.22},{"t":"v","g":"CD38","grp":"Mult-","y":0.5,"lo":0.92,"hi":1.08},{"t":"v","g":"CD38","grp":"Mult-","y":1,"lo":0.96,"hi":1.04},{"t":"v","g":"CD38","grp":"Mult-","y":1.8,"lo":0.97,"hi":1.03},
       {"t":"v","g":"CD38","grp":"Mult+","y":0,"lo":1.55,"hi":2.45},{"t":"v","g":"CD38","grp":"Mult+","y":0.25,"lo":1.78,"hi":2.22},{"t":"v","g":"CD38","grp":"Mult+","y":0.5,"lo":1.94,"hi":2.06},{"t":"v","g":"CD38","grp":"Mult+","y":1,"lo":1.96,"hi":2.04},{"t":"v","g":"CD38","grp":"Mult+","y":2.5,"lo":1.96,"hi":2.04},{"t":"v","g":"CD38","grp":"Mult+","y":3.5,"lo":1.95,"hi":2.05},
       {"t":"v","g":"FASLG","grp":"Mult-","y":0,"lo":0.58,"hi":1.42},{"t":"v","g":"FASLG","grp":"Mult-","y":0.25,"lo":0.8,"hi":1.2},{"t":"v","g":"FASLG","grp":"Mult-","y":0.5,"lo":0.95,"hi":1.05},{"t":"v","g":"FASLG","grp":"Mult-","y":1.5,"lo":0.97,"hi":1.03},{"t":"v","g":"FASLG","grp":"Mult-","y":3.4,"lo":0.98,"hi":1.02},
       {"t":"v","g":"FASLG","grp":"Mult+","y":0,"lo":1.55,"hi":2.45},{"t":"v","g":"FASLG","grp":"Mult+","y":0.25,"lo":1.78,"hi":2.22},{"t":"v","g":"FASLG","grp":"Mult+","y":0.5,"lo":1.94,"hi":2.06},{"t":"v","g":"FASLG","grp":"Mult+","y":1.5,"lo":1.96,"hi":2.04},{"t":"v","g":"FASLG","grp":"Mult+","y":3.3,"lo":1.96,"hi":2.04},
       {"t":"v","g":"BATF","grp":"Mult-","y":0,"lo":0.55,"hi":1.45},{"t":"v","g":"BATF","grp":"Mult-","y":0.5,"lo":0.67,"hi":1.33},{"t":"v","g":"BATF","grp":"Mult-","y":1,"lo":0.8,"hi":1.2},{"t":"v","g":"BATF","grp":"Mult-","y":1.5,"lo":0.9,"hi":1.1},{"t":"v","g":"BATF","grp":"Mult-","y":2,"lo":0.93,"hi":1.07},{"t":"v","g":"BATF","grp":"Mult-","y":3.4,"lo":0.94,"hi":1.06},
       {"t":"v","g":"BATF","grp":"Mult+","y":0,"lo":1.62,"hi":2.38},{"t":"v","g":"BATF","grp":"Mult+","y":0.5,"lo":1.7,"hi":2.3},{"t":"v","g":"BATF","grp":"Mult+","y":1,"lo":1.82,"hi":2.18},{"t":"v","g":"BATF","grp":"Mult+","y":1.5,"lo":1.9,"hi":2.1},{"t":"v","g":"BATF","grp":"Mult+","y":2,"lo":1.87,"hi":2.13},{"t":"v","g":"BATF","grp":"Mult+","y":2.5,"lo":1.8,"hi":2.2},{"t":"v","g":"BATF","grp":"Mult+","y":2.9,"lo":1.75,"hi":2.25},
       {"t":"v","g":"ANXA2","grp":"Mult-","y":0,"lo":0.58,"hi":1.42},{"t":"v","g":"ANXA2","grp":"Mult-","y":0.5,"lo":0.65,"hi":1.35},{"t":"v","g":"ANXA2","grp":"Mult-","y":1,"lo":0.8,"hi":1.2},{"t":"v","g":"ANXA2","grp":"Mult-","y":1.5,"lo":0.88,"hi":1.12},{"t":"v","g":"ANXA2","grp":"Mult-","y":2,"lo":0.9,"hi":1.1},{"t":"v","g":"ANXA2","grp":"Mult-","y":2.5,"lo":0.88,"hi":1.12},{"t":"v","g":"ANXA2","grp":"Mult-","y":3,"lo":0.85,"hi":1.15},{"t":"v","g":"ANXA2","grp":"Mult-","y":3.5,"lo":0.84,"hi":1.16},
       {"t":"v","g":"ANXA2","grp":"Mult+","y":0,"lo":1.62,"hi":2.38},{"t":"v","g":"ANXA2","grp":"Mult+","y":0.5,"lo":1.68,"hi":2.32},{"t":"v","g":"ANXA2","grp":"Mult+","y":1,"lo":1.8,"hi":2.2},{"t":"v","g":"ANXA2","grp":"Mult+","y":1.5,"lo":1.88,"hi":2.12},{"t":"v","g":"ANXA2","grp":"Mult+","y":2,"lo":1.88,"hi":2.12},{"t":"v","g":"ANXA2","grp":"Mult+","y":2.5,"lo":1.82,"hi":2.18},{"t":"v","g":"ANXA2","grp":"Mult+","y":3,"lo":1.75,"hi":2.25},{"t":"v","g":"ANXA2","grp":"Mult+","y":3.6,"lo":1.74,"hi":2.26},
       {"t":"v","g":"TOP2A","grp":"Mult-","y":0,"lo":0.58,"hi":1.42},{"t":"v","g":"TOP2A","grp":"Mult-","y":0.2,"lo":0.72,"hi":1.28},{"t":"v","g":"TOP2A","grp":"Mult-","y":0.5,"lo":0.95,"hi":1.05},{"t":"v","g":"TOP2A","grp":"Mult-","y":1,"lo":0.98,"hi":1.02},{"t":"v","g":"TOP2A","grp":"Mult-","y":3.3,"lo":0.985,"hi":1.015},
       {"t":"v","g":"TOP2A","grp":"Mult+","y":0,"lo":1.58,"hi":2.42},{"t":"v","g":"TOP2A","grp":"Mult+","y":0.2,"lo":1.72,"hi":2.28},{"t":"v","g":"TOP2A","grp":"Mult+","y":0.5,"lo":1.94,"hi":2.06},{"t":"v","g":"TOP2A","grp":"Mult+","y":1,"lo":1.97,"hi":2.03},{"t":"v","g":"TOP2A","grp":"Mult+","y":1.8,"lo":1.98,"hi":2.02},
       {"t":"v","g":"ENTPD1","grp":"Mult-","y":0,"lo":0.58,"hi":1.42},{"t":"v","g":"ENTPD1","grp":"Mult-","y":0.5,"lo":0.7,"hi":1.3},{"t":"v","g":"ENTPD1","grp":"Mult-","y":1,"lo":0.85,"hi":1.15},{"t":"v","g":"ENTPD1","grp":"Mult-","y":1.5,"lo":0.94,"hi":1.06},{"t":"v","g":"ENTPD1","grp":"Mult-","y":2,"lo":0.97,"hi":1.03},{"t":"v","g":"ENTPD1","grp":"Mult-","y":3.2,"lo":0.98,"hi":1.02},
       {"t":"v","g":"ENTPD1","grp":"Mult+","y":0,"lo":1.64,"hi":2.36},{"t":"v","g":"ENTPD1","grp":"Mult+","y":0.5,"lo":1.7,"hi":2.3},{"t":"v","g":"ENTPD1","grp":"Mult+","y":1,"lo":1.85,"hi":2.15},{"t":"v","g":"ENTPD1","grp":"Mult+","y":1.5,"lo":1.93,"hi":2.07},{"t":"v","g":"ENTPD1","grp":"Mult+","y":2.5,"lo":1.93,"hi":2.07},{"t":"v","g":"ENTPD1","grp":"Mult+","y":3,"lo":1.9,"hi":2.1},{"t":"v","g":"ENTPD1","grp":"Mult+","y":3.5,"lo":1.9,"hi":2.1},
       {"t":"v","g":"CCDC50","grp":"Mult-","y":0,"lo":0.58,"hi":1.42},{"t":"v","g":"CCDC50","grp":"Mult-","y":0.15,"lo":0.8,"hi":1.2},{"t":"v","g":"CCDC50","grp":"Mult-","y":0.4,"lo":0.96,"hi":1.04},{"t":"v","g":"CCDC50","grp":"Mult-","y":1.3,"lo":0.98,"hi":1.02},
       {"t":"v","g":"CCDC50","grp":"Mult+","y":0,"lo":1.7,"hi":2.3},{"t":"v","g":"CCDC50","grp":"Mult+","y":0.2,"lo":1.8,"hi":2.2},{"t":"v","g":"CCDC50","grp":"Mult+","y":0.5,"lo":1.95,"hi":2.05},{"t":"v","g":"CCDC50","grp":"Mult+","y":2.2,"lo":1.98,"hi":2.02},
       {"t":"p","g":"ICOS","x":0.62,"y":2.8},{"t":"p","g":"ICOS","x":0.78,"y":2.3},{"t":"p","g":"ICOS","x":1.1,"y":1.1},{"t":"p","g":"ICOS","x":0.7,"y":0},{"t":"p","g":"ICOS","x":0.85,"y":0},{"t":"p","g":"ICOS","x":1.0,"y":0},{"t":"p","g":"ICOS","x":1.2,"y":0},{"t":"p","g":"ICOS","x":1.35,"y":0},{"t":"p","g":"ICOS","x":0.6,"y":0},
       {"t":"p","g":"ICOS","x":1.65,"y":3.9},{"t":"p","g":"ICOS","x":1.75,"y":3.6},{"t":"p","g":"ICOS","x":1.72,"y":2.5},{"t":"p","g":"ICOS","x":1.8,"y":1.5},{"t":"p","g":"ICOS","x":1.9,"y":0.6},{"t":"p","g":"ICOS","x":2.05,"y":1.0},{"t":"p","g":"ICOS","x":2.3,"y":3.7},{"t":"p","g":"ICOS","x":2.35,"y":3.5},{"t":"p","g":"ICOS","x":2.2,"y":1.9},{"t":"p","g":"ICOS","x":2.3,"y":0.5},{"t":"p","g":"ICOS","x":1.7,"y":0.1},{"t":"p","g":"ICOS","x":2.4,"y":0.2},{"t":"p","g":"ICOS","x":1.6,"y":0},
       {"t":"p","g":"RGS1","x":0.65,"y":3.6},{"t":"p","g":"RGS1","x":0.7,"y":4.0},{"t":"p","g":"RGS1","x":0.6,"y":1.8},{"t":"p","g":"RGS1","x":0.7,"y":0},{"t":"p","g":"RGS1","x":1.2,"y":3.9},{"t":"p","g":"RGS1","x":1.25,"y":3.2},{"t":"p","g":"RGS1","x":1.3,"y":1.4},{"t":"p","g":"RGS1","x":1.35,"y":0},{"t":"p","g":"RGS1","x":0.9,"y":0.1},{"t":"p","g":"RGS1","x":1.05,"y":2.5},
       {"t":"p","g":"RGS1","x":1.65,"y":4.0},{"t":"p","g":"RGS1","x":1.8,"y":4.5},{"t":"p","g":"RGS1","x":1.9,"y":4.2},{"t":"p","g":"RGS1","x":2.0,"y":4.6},{"t":"p","g":"RGS1","x":2.1,"y":4.4},{"t":"p","g":"RGS1","x":2.2,"y":4.2},{"t":"p","g":"RGS1","x":2.3,"y":4.5},{"t":"p","g":"RGS1","x":1.75,"y":3.5},{"t":"p","g":"RGS1","x":1.7,"y":0},{"t":"p","g":"RGS1","x":2.35,"y":0.3},{"t":"p","g":"RGS1","x":2.05,"y":3.8},
       {"t":"p","g":"CTLA4","x":0.62,"y":3.5},{"t":"p","g":"CTLA4","x":0.8,"y":0.3},{"t":"p","g":"CTLA4","x":1.0,"y":0},{"t":"p","g":"CTLA4","x":0.7,"y":0.05},{"t":"p","g":"CTLA4","x":1.15,"y":1.6},{"t":"p","g":"CTLA4","x":1.2,"y":0.4},{"t":"p","g":"CTLA4","x":1.35,"y":0},{"t":"p","g":"CTLA4","x":1.1,"y":3.0},
       {"t":"p","g":"CTLA4","x":1.6,"y":3.6},{"t":"p","g":"CTLA4","x":1.7,"y":3.3},{"t":"p","g":"CTLA4","x":1.9,"y":3.4},{"t":"p","g":"CTLA4","x":2.05,"y":3.6},{"t":"p","g":"CTLA4","x":2.15,"y":2.2},{"t":"p","g":"CTLA4","x":2.3,"y":0.5},{"t":"p","g":"CTLA4","x":2.4,"y":0.2},{"t":"p","g":"CTLA4","x":1.75,"y":1.3},{"t":"p","g":"CTLA4","x":1.95,"y":0.6},{"t":"p","g":"CTLA4","x":2.35,"y":0},
       {"t":"p","g":"CCR5","x":0.65,"y":0},{"t":"p","g":"CCR5","x":0.8,"y":0},{"t":"p","g":"CCR5","x":0.95,"y":0},{"t":"p","g":"CCR5","x":1.1,"y":0},{"t":"p","g":"CCR5","x":1.25,"y":0.2},{"t":"p","g":"CCR5","x":1.4,"y":0},{"t":"p","g":"CCR5","x":0.9,"y":0.1},
       {"t":"p","g":"CCR5","x":1.55,"y":0.8},{"t":"p","g":"CCR5","x":1.7,"y":1.7},{"t":"p","g":"CCR5","x":1.65,"y":0},{"t":"p","g":"CCR5","x":1.8,"y":0.4},{"t":"p","g":"CCR5","x":2.1,"y":2.3},{"t":"p","g":"CCR5","x":2.25,"y":2.1},{"t":"p","g":"CCR5","x":2.35,"y":2.5},{"t":"p","g":"CCR5","x":2.3,"y":1.5},{"t":"p","g":"CCR5","x":2.2,"y":0},{"t":"p","g":"CCR5","x":2.4,"y":0},
       {"t":"p","g":"IFNG","x":0.6,"y":3.2},{"t":"p","g":"IFNG","x":0.65,"y":2.8},{"t":"p","g":"IFNG","x":0.72,"y":1.6},{"t":"p","g":"IFNG","x":0.8,"y":0},{"t":"p","g":"IFNG","x":0.9,"y":0.9},{"t":"p","g":"IFNG","x":1.2,"y":3.5},{"t":"p","g":"IFNG","x":1.25,"y":2.8},{"t":"p","g":"IFNG","x":1.3,"y":0.3},{"t":"p","g":"IFNG","x":1.35,"y":0},{"t":"p","g":"IFNG","x":1.05,"y":0},{"t":"p","g":"IFNG","x":1.15,"y":2.0},
       {"t":"p","g":"IFNG","x":1.6,"y":3.4},{"t":"p","g":"IFNG","x":1.7,"y":3.6},{"t":"p","g":"IFNG","x":1.8,"y":2.7},{"t":"p","g":"IFNG","x":1.9,"y":3.9},{"t":"p","g":"IFNG","x":2.1,"y":4.0},{"t":"p","g":"IFNG","x":2.2,"y":3.3},{"t":"p","g":"IFNG","x":2.3,"y":3.7},{"t":"p","g":"IFNG","x":2.35,"y":0.2},{"t":"p","g":"IFNG","x":1.75,"y":0.4},{"t":"p","g":"IFNG","x":2.0,"y":0.1},{"t":"p","g":"IFNG","x":2.25,"y":1.2},{"t":"p","g":"IFNG","x":1.95,"y":1.9},
       {"t":"p","g":"CXCL13","x":0.6,"y":0},{"t":"p","g":"CXCL13","x":0.75,"y":0},{"t":"p","g":"CXCL13","x":0.9,"y":0},{"t":"p","g":"CXCL13","x":1.05,"y":0},{"t":"p","g":"CXCL13","x":1.2,"y":0},{"t":"p","g":"CXCL13","x":1.35,"y":0},
       {"t":"p","g":"CXCL13","x":1.6,"y":4.0},{"t":"p","g":"CXCL13","x":1.62,"y":3.2},{"t":"p","g":"CXCL13","x":1.65,"y":2.9},{"t":"p","g":"CXCL13","x":2.25,"y":4.1},{"t":"p","g":"CXCL13","x":2.3,"y":3.5},{"t":"p","g":"CXCL13","x":2.32,"y":3.4},{"t":"p","g":"CXCL13","x":2.35,"y":1.1},{"t":"p","g":"CXCL13","x":2.1,"y":0.4},{"t":"p","g":"CXCL13","x":1.8,"y":0},{"t":"p","g":"CXCL13","x":2.4,"y":0},
       {"t":"p","g":"LAG3","x":0.7,"y":0},{"t":"p","g":"LAG3","x":0.85,"y":0.2},{"t":"p","g":"LAG3","x":1.0,"y":0},{"t":"p","g":"LAG3","x":1.05,"y":2.9},{"t":"p","g":"LAG3","x":1.1,"y":1.6},{"t":"p","g":"LAG3","x":1.25,"y":3.0},{"t":"p","g":"LAG3","x":1.3,"y":1.2},{"t":"p","g":"LAG3","x":1.35,"y":0.8},{"t":"p","g":"LAG3","x":1.4,"y":0.2},
       {"t":"p","g":"LAG3","x":1.7,"y":2.6},{"t":"p","g":"LAG3","x":1.8,"y":3.0},{"t":"p","g":"LAG3","x":2.05,"y":3.2},{"t":"p","g":"LAG3","x":2.2,"y":3.0},{"t":"p","g":"LAG3","x":2.35,"y":3.1},{"t":"p","g":"LAG3","x":2.3,"y":1.4},{"t":"p","g":"LAG3","x":2.2,"y":0.5},{"t":"p","g":"LAG3","x":1.8,"y":0},{"t":"p","g":"LAG3","x":2.0,"y":0},
       {"t":"p","g":"GZMB","x":0.62,"y":2.8},{"t":"p","g":"GZMB","x":0.7,"y":3.8},{"t":"p","g":"GZMB","x":0.85,"y":3.4},{"t":"p","g":"GZMB","x":0.95,"y":3.0},{"t":"p","g":"GZMB","x":1.1,"y":4.0},{"t":"p","g":"GZMB","x":1.2,"y":3.6},{"t":"p","g":"GZMB","x":1.3,"y":3.1},{"t":"p","g":"GZMB","x":1.05,"y":0.4},{"t":"p","g":"GZMB","x":1.2,"y":0.1},{"t":"p","g":"GZMB","x":0.7,"y":0},{"t":"p","g":"GZMB","x":0.95,"y":2.2},
       {"t":"p","g":"GZMB","x":1.7,"y":4.1},{"t":"p","g":"GZMB","x":1.85,"y":4.4},{"t":"p","g":"GZMB","x":2.0,"y":3.8},{"t":"p","g":"GZMB","x":2.1,"y":4.2},{"t":"p","g":"GZMB","x":2.25,"y":3.9},{"t":"p","g":"GZMB","x":2.3,"y":3.3},{"t":"p","g":"GZMB","x":1.9,"y":3.0},{"t":"p","g":"GZMB","x":1.75,"y":0.6},{"t":"p","g":"GZMB","x":2.1,"y":0.2},{"t":"p","g":"GZMB","x":2.3,"y":0},{"t":"p","g":"GZMB","x":1.65,"y":2.5},{"t":"p","g":"GZMB","x":2.05,"y":0.9},
       {"t":"p","g":"CD38","x":0.62,"y":0.2},{"t":"p","g":"CD38","x":0.8,"y":0.5},{"t":"p","g":"CD38","x":0.95,"y":0},{"t":"p","g":"CD38","x":1.1,"y":0.1},{"t":"p","g":"CD38","x":1.3,"y":1.5},{"t":"p","g":"CD38","x":1.2,"y":0.3},{"t":"p","g":"CD38","x":0.7,"y":0},
       {"t":"p","g":"CD38","x":1.7,"y":0.2},{"t":"p","g":"CD38","x":1.8,"y":0.5},{"t":"p","g":"CD38","x":2.05,"y":0.3},{"t":"p","g":"CD38","x":2.2,"y":3.3},{"t":"p","g":"CD38","x":2.3,"y":3.0},{"t":"p","g":"CD38","x":2.35,"y":3.5},{"t":"p","g":"CD38","x":2.25,"y":2.8},{"t":"p","g":"CD38","x":2.15,"y":0},{"t":"p","g":"CD38","x":2.4,"y":0.1},{"t":"p","g":"CD38","x":1.9,"y":0},
       {"t":"p","g":"FASLG","x":0.75,"y":3.3},{"t":"p","g":"FASLG","x":1.25,"y":3.2},{"t":"p","g":"FASLG","x":0.7,"y":0},{"t":"p","g":"FASLG","x":0.85,"y":0},{"t":"p","g":"FASLG","x":1.1,"y":0.1},{"t":"p","g":"FASLG","x":1.3,"y":0},{"t":"p","g":"FASLG","x":1.0,"y":0.3},
       {"t":"p","g":"FASLG","x":2.1,"y":3.0},{"t":"p","g":"FASLG","x":2.05,"y":2.5},{"t":"p","g":"FASLG","x":2.2,"y":2.2},{"t":"p","g":"FASLG","x":2.3,"y":2.0},{"t":"p","g":"FASLG","x":2.35,"y":1.6},{"t":"p","g":"FASLG","x":2.1,"y":1.8},{"t":"p","g":"FASLG","x":1.75,"y":0},{"t":"p","g":"FASLG","x":1.9,"y":0},{"t":"p","g":"FASLG","x":2.2,"y":0},{"t":"p","g":"FASLG","x":2.4,"y":0},
       {"t":"p","g":"BATF","x":0.62,"y":3.0},{"t":"p","g":"BATF","x":0.65,"y":2.1},{"t":"p","g":"BATF","x":0.7,"y":3.4},{"t":"p","g":"BATF","x":0.72,"y":2.8},{"t":"p","g":"BATF","x":1.0,"y":3.0},{"t":"p","g":"BATF","x":1.05,"y":2.4},{"t":"p","g":"BATF","x":1.3,"y":1.0},{"t":"p","g":"BATF","x":1.4,"y":1.2},{"t":"p","g":"BATF","x":0.9,"y":0},{"t":"p","g":"BATF","x":1.15,"y":0},{"t":"p","g":"BATF","x":0.75,"y":0},
       {"t":"p","g":"BATF","x":1.6,"y":2.8},{"t":"p","g":"BATF","x":1.75,"y":2.8},{"t":"p","g":"BATF","x":1.9,"y":2.9},{"t":"p","g":"BATF","x":2.1,"y":2.7},{"t":"p","g":"BATF","x":2.25,"y":2.9},{"t":"p","g":"BATF","x":2.3,"y":2.6},{"t":"p","g":"BATF","x":1.8,"y":0},{"t":"p","g":"BATF","x":2.0,"y":0},{"t":"p","g":"BATF","x":2.2,"y":0},{"t":"p","g":"BATF","x":2.35,"y":0},
       {"t":"p","g":"ANXA2","x":0.6,"y":3.5},{"t":"p","g":"ANXA2","x":0.62,"y":3.1},{"t":"p","g":"ANXA2","x":0.68,"y":2.7},{"t":"p","g":"ANXA2","x":0.8,"y":1.7},{"t":"p","g":"ANXA2","x":1.1,"y":3.3},{"t":"p","g":"ANXA2","x":1.15,"y":2.9},{"t":"p","g":"ANXA2","x":1.3,"y":1.4},{"t":"p","g":"ANXA2","x":0.9,"y":0.8},{"t":"p","g":"ANXA2","x":1.0,"y":0},{"t":"p","g":"ANXA2","x":1.2,"y":0},{"t":"p","g":"ANXA2","x":0.8,"y":0},
       {"t":"p","g":"ANXA2","x":1.6,"y":2.9},{"t":"p","g":"ANXA2","x":1.7,"y":3.3},{"t":"p","g":"ANXA2","x":1.9,"y":3.5},{"t":"p","g":"ANXA2","x":2.0,"y":3.1},{"t":"p","g":"ANXA2","x":2.15,"y":3.6},{"t":"p","g":"ANXA2","x":2.3,"y":3.0},{"t":"p","g":"ANXA2","x":2.35,"y":3.4},{"t":"p","g":"ANXA2","x":1.8,"y":0},{"t":"p","g":"ANXA2","x":2.0,"y":0.2},{"t":"p","g":"ANXA2","x":2.25,"y":0},
       {"t":"p","g":"TOP2A","x":0.65,"y":0},{"t":"p","g":"TOP2A","x":0.8,"y":0},{"t":"p","g":"TOP2A","x":1.0,"y":3.3},{"t":"p","g":"TOP2A","x":1.1,"y":0},{"t":"p","g":"TOP2A","x":1.25,"y":0},{"t":"p","g":"TOP2A","x":1.35,"y":0},
       {"t":"p","g":"TOP2A","x":1.6,"y":0},{"t":"p","g":"TOP2A","x":1.75,"y":0},{"t":"p","g":"TOP2A","x":2.0,"y":1.8},{"t":"p","g":"TOP2A","x":2.05,"y":0.9},{"t":"p","g":"TOP2A","x":2.3,"y":0.6},{"t":"p","g":"TOP2A","x":2.4,"y":0.4},{"t":"p","g":"TOP2A","x":2.15,"y":0},
       {"t":"p","g":"ENTPD1","x":0.75,"y":3.2},{"t":"p","g":"ENTPD1","x":0.6,"y":0.6},{"t":"p","g":"ENTPD1","x":0.7,"y":0.4},{"t":"p","g":"ENTPD1","x":0.85,"y":0.8},{"t":"p","g":"ENTPD1","x":0.95,"y":0.4},{"t":"p","g":"ENTPD1","x":1.1,"y":0.5},{"t":"p","g":"ENTPD1","x":1.2,"y":1.0},{"t":"p","g":"ENTPD1","x":1.3,"y":0.6},{"t":"p","g":"ENTPD1","x":1.4,"y":0.1},{"t":"p","g":"ENTPD1","x":0.9,"y":0},{"t":"p","g":"ENTPD1","x":1.05,"y":0},{"t":"p","g":"ENTPD1","x":1.25,"y":0.2},
       {"t":"p","g":"ENTPD1","x":1.6,"y":3.2},{"t":"p","g":"ENTPD1","x":1.75,"y":3.3},{"t":"p","g":"ENTPD1","x":1.85,"y":3.2},{"t":"p","g":"ENTPD1","x":2.3,"y":3.5},{"t":"p","g":"ENTPD1","x":2.35,"y":3.0},{"t":"p","g":"ENTPD1","x":2.25,"y":1.7},{"t":"p","g":"ENTPD1","x":2.2,"y":1.2},{"t":"p","g":"ENTPD1","x":1.9,"y":0.6},{"t":"p","g":"ENTPD1","x":2.05,"y":0.5},{"t":"p","g":"ENTPD1","x":2.15,"y":0.1},{"t":"p","g":"ENTPD1","x":2.35,"y":0.2},{"t":"p","g":"ENTPD1","x":1.7,"y":0},
       {"t":"p","g":"CCDC50","x":0.65,"y":1.3},{"t":"p","g":"CCDC50","x":0.8,"y":0.1},{"t":"p","g":"CCDC50","x":1.0,"y":0.2},{"t":"p","g":"CCDC50","x":1.15,"y":0},{"t":"p","g":"CCDC50","x":1.3,"y":0},{"t":"p","g":"CCDC50","x":0.7,"y":0},
       {"t":"p","g":"CCDC50","x":1.65,"y":2.2},{"t":"p","g":"CCDC50","x":2.0,"y":1.6},{"t":"p","g":"CCDC50","x":2.1,"y":0.7},{"t":"p","g":"CCDC50","x":1.8,"y":0},{"t":"p","g":"CCDC50","x":2.2,"y":0},{"t":"p","g":"CCDC50","x":2.35,"y":0}
      ]},
      "facet":{"field":"g","type":"nominal","sort":["ICOS","RGS1","CTLA4","CCR5","IFNG","CXCL13","LAG3","GZMB","CD38","FASLG","BATF","ANXA2","TOP2A","ENTPD1","CCDC50"],"header":{"labels":false,"title":null,"labelExpr":"''","labelFontSize":1}},
      "columns":5,
      "spacing":{"row":16,"column":5.3},
      "bounds":"flush",
      "spec":{
       "width":61,"height":60,
       "view":{"stroke":"#777","strokeWidth":1},
       "layer":[
        {"transform":[{"filter":"datum.t=='v'"}],
         "mark":{"type":"area","orient":"horizontal","interpolate":"monotone","stroke":"#555","strokeWidth":0.4,"opacity":1},
         "encoding":{
          "y":{"field":"y","type":"quantitative","scale":{"domain":[-0.3,6.37],"nice":false,"zero":false},"axis":null},
          "x":{"field":"lo","type":"quantitative","scale":{"domain":[0.35,2.58],"nice":false,"zero":false},"axis":{"values":[1,2],"labels":false,"tickSize":2,"tickColor":"#555","domain":false,"title":null}},
          "x2":{"field":"hi"},
          "detail":{"field":"grp"},
          "color":{"field":"grp","type":"nominal","scale":{"domain":["Mult-","Mult+"],"range":["#F8766D","#00BFC4"]},"legend":{"title":null,"orient":"right","offset":3,"symbolType":"square","symbolSize":120,"symbolStrokeColor":"#666","symbolStrokeWidth":0.8,"symbolOpacity":1,"labelFontSize":7,"labelColor":"#222","rowPadding":1,"labelOffset":2,"padding":0}}
         }},
        {"transform":[{"filter":"datum.t=='p'"}],
         "mark":{"type":"circle","size":3.5,"color":"#000","opacity":1},
         "encoding":{"x":{"field":"x","type":"quantitative"},"y":{"field":"y","type":"quantitative","axis":null}}},
        {"transform":[{"filter":"datum.t=='s'"}],
         "mark":{"type":"rule","strokeWidth":0.6,"color":"#222"},
         "encoding":{"x":{"datum":1},"x2":{"datum":2},"y":{"datum":5.3,"axis":null}}},
        {"transform":[{"filter":"datum.t=='s'"}],
         "mark":{"type":"rule","strokeWidth":0.6,"color":"#222"},
         "encoding":{"x":{"datum":1},"y":{"datum":5.3,"axis":null},"y2":{"datum":5.05}}},
        {"transform":[{"filter":"datum.t=='s'"}],
         "mark":{"type":"rule","strokeWidth":0.6,"color":"#222"},
         "encoding":{"x":{"datum":2},"y":{"datum":5.3,"axis":null},"y2":{"datum":5.05}}},
        {"transform":[{"filter":"datum.t=='s'"}],
         "mark":{"type":"text","fontSize":7.2,"color":"#222","baseline":"middle"},
         "encoding":{"x":{"datum":1.5},"y":{"datum":5.75,"axis":null},"text":{"field":"pv"}}},
        {"transform":[{"filter":"datum.t=='s'"}],
         "mark":{"type":"text","fontSize":6.5,"fontStyle":"italic","color":"#333","baseline":"middle"},
         "encoding":{"x":{"datum":1.5},"y":{"datum":7.03,"axis":null,"scale":{"domain":[-0.3,6.37],"nice":false,"zero":false}},"text":{"field":"g"}}}
       ]
      }
     }
    ],
    "spacing":0,"bounds":"flush"
   },
   {"data":{"values":[{}]},"mark":{"type":"point","opacity":0,"size":1},"width":1,"height":45},
   {
    "hconcat":[
     {"data":{"values":[{}]},"mark":{"type":"point","opacity":0,"size":1},"width":166,"height":80,
      "title":{"text":"d","orient":"bottom","dx":27,"offset":-4}},
     {
      "width":205,"height":80,
      "layer":[
       {"data":{"values":[
         {"lab":"a","term":"positive regulation of cytokine secretion","cat":"Immune function"},
         {"lab":"b","term":"regulation of T cell activation","cat":"Immune function"},
         {"lab":"c","term":"positive regulation of T cell migration","cat":"Cell motility"},
         {"lab":"d","term":"positive chemotaxis","cat":"Cell motility"},
         {"lab":"e","term":"T cell costimulation","cat":"Intracellular signalling"},
         {"lab":"f","term":"positive regulation of ERK1 and ERK2 cascade","cat":"Intracellular signalling"},
         {"lab":"g","term":"necroptotic signalling pathway","cat":"Apoptosis"},
         {"lab":"h","term":"cytidine deamination","cat":"Cell cycle"},
         {"lab":"i","term":"DNA cytosine deamination","cat":"Cell cycle"}
        ]},
        "layer":[
         {"mark":{"type":"rect"},
          "encoding":{
           "y":{"field":"lab","type":"nominal","sort":null,"axis":null,"scale":{"paddingInner":0,"paddingOuter":0}},
           "x":{"datum":0,"type":"quantitative","scale":{"domain":[0,1],"nice":false},"axis":null},
           "x2":{"datum":1},
           "color":{"field":"cat","type":"nominal","scale":{"domain":["Immune function","Cell motility","Intracellular signalling","Apoptosis","Cell cycle"],"range":["#F7B1EE","#B1CBF8","#7FDEE0","#DCCE7F","#FBB9B5"]},"legend":null}
          }},
         {"mark":{"type":"text","font":"Lato","fontSize":6.2,"color":"#222","align":"left","baseline":"middle"},
          "encoding":{"y":{"field":"lab","type":"nominal","sort":null},"x":{"datum":0.01,"type":"quantitative"},"text":{"field":"term"}}},
         {"mark":{"type":"text","font":"Lato","fontSize":6.2,"color":"#222","align":"right","baseline":"middle"},
          "encoding":{"y":{"field":"lab","type":"nominal","sort":null},"x":{"datum":0.985,"type":"quantitative"},"text":{"field":"lab"}}}
        ]},
       {"data":{"values":[{"cat":"Immune function"},{"cat":"Cell motility"},{"cat":"Intracellular signalling"},{"cat":"Other"},{"cat":"Apoptosis"},{"cat":"Cell cycle"}]},
        "mark":{"type":"square","opacity":0},
        "encoding":{"color":{"field":"cat","type":"nominal","scale":{"domain":["Immune function","Cell motility","Intracellular signalling","Other","Apoptosis","Cell cycle"],"range":["#F564E3","#619CFF","#00BFC4","#00BA38","#B79F00","#F8766D"]},
          "legend":{"orient":"none","legendX":-130,"legendY":-2,"title":null,"symbolType":"square","symbolSize":64,"symbolStrokeWidth":0,"symbolOpacity":1,"labelFontSize":6.5,"labelColor":"#333","rowPadding":2.4,"labelOffset":6,"padding":0}}}}
      ],
      "resolve":{"scale":{"color":"independent"},"legend":{"color":"independent"}}
     }
    ],
    "spacing":0,"bounds":"flush"
   },
   {"data":{"values":[{}]},"mark":{"type":"point","opacity":0,"size":1},"width":1,"height":6},
   {
    "hconcat":[
     {"data":{"values":[{}]},"mark":{"type":"point","opacity":0,"size":1},"width":49,"height":1},
     {
      "concat":[
        {"width":149,"height":149,
         "title":{"text":["\u00a0\u00a0\u00a0\u00a0Mult-\u00a0\u00a0\u00a0\u00a0\u00a0Mult+","\u00a0\u00a0\u00a0\u00a0◂──────▸","Pathway enrichment"],"fontSize":7,"fontWeight":"normal","lineHeight":6,"offset":3,"color":"#222"},
         "view":{"stroke":"#444","strokeWidth":1.2},
         "layer":[
          {"data":{"name":"g1"},"mark":{"type":"circle","size":5,"color":"#c4c4c4","opacity":0.7},
           "encoding":{
            "x":{"field":"x","type":"quantitative","scale":{"domain":[-0.59,1.08],"nice":false,"zero":false},"axis":{"values":[-0.5,0,0.5,1],"format":".1f","labelFontSize":7.5,"labelColor":"#444","tickSize":2.5,"tickColor":"#444","domain":false,"title":"Pathway enrichment","titleFontSize":7,"titleFontWeight":"normal","titleColor":"#222","titlePadding":0,"labelPadding":1}},
            "y":{"field":"y","type":"quantitative","scale":{"domain":[-0.35,7.42],"nice":false,"zero":false},"axis":{"values":[0,2,4,6],"labelFontSize":7.5,"labelColor":"#444","tickSize":3,"tickColor":"#444","domain":false,"title":"-log10(adjusted p-value)","titleFontSize":7.5,"titleFontWeight":"normal","titleColor":"#222","titlePadding":2,"labelPadding":1}}
           }},
          {"data":{"values":[{}]},"mark":{"type":"rule","color":"#9a9aff","strokeWidth":2,"strokeDash":[7,5]},"encoding":{"y":{"datum":1.3}}},
          {"data":{"name":"l1"},"mark":{"type":"rule","color":"#a6a6a6","strokeWidth":0.8},"encoding":{"x":{"field":"x","type":"quantitative"},"y":{"field":"y","type":"quantitative"},"x2":{"datum":0.97},"y2":{"field":"ly"}}},
          {"data":{"name":"r1"},"mark":{"type":"circle","size":13,"color":"#ff0000","opacity":1},"encoding":{"x":{"field":"x","type":"quantitative"},"y":{"field":"y","type":"quantitative"}}},
          {"data":{"name":"l1"},"mark":{"type":"text","fontSize":8,"color":"#444","align":"left","baseline":"middle"},"encoding":{"x":{"datum":1.0},"y":{"field":"ly","type":"quantitative"},"text":{"field":"lab"}}}
         ]},
        {"width":149,"height":149,
         "title":{"text":["CD8 NL\u00a0\u00a0\u00a0CD8 Tdys","\u00a0\u00a0\u00a0◂──────▸","Pathway enrichment"],"fontSize":7,"fontWeight":"normal","lineHeight":6,"offset":3,"color":"#222"},
         "view":{"stroke":"#444","strokeWidth":1.2},
         "layer":[
          {"data":{"name":"g2"},"mark":{"type":"circle","size":5,"color":"#c4c4c4","opacity":0.7},
           "encoding":{
            "x":{"field":"x","type":"quantitative","scale":{"domain":[-0.59,1.08],"nice":false,"zero":false},"axis":{"values":[-0.5,0,0.5,1],"format":".1f","labelFontSize":7.5,"labelColor":"#444","tickSize":2.5,"tickColor":"#444","domain":false,"title":"Pathway enrichment","titleFontSize":7,"titleFontWeight":"normal","titleColor":"#222","titlePadding":0,"labelPadding":1}},
            "y":{"field":"y","type":"quantitative","scale":{"domain":[-0.35,7.42],"nice":false,"zero":false},"axis":{"values":[0,2,4,6],"labelFontSize":7.5,"labelColor":"#444","tickSize":3,"tickColor":"#444","domain":false,"title":"-log10(adjusted p-value)","titleFontSize":7.5,"titleFontWeight":"normal","titleColor":"#222","titlePadding":2,"labelPadding":1}}
           }},
          {"data":{"values":[{}]},"mark":{"type":"rule","color":"#9a9aff","strokeWidth":2,"strokeDash":[7,5]},"encoding":{"y":{"datum":1.3}}},
          {"data":{"name":"l2"},"mark":{"type":"rule","color":"#a6a6a6","strokeWidth":0.8},"encoding":{"x":{"field":"x","type":"quantitative"},"y":{"field":"y","type":"quantitative"},"x2":{"datum":0.97},"y2":{"field":"ly"}}},
          {"data":{"name":"r2"},"mark":{"type":"circle","size":13,"color":"#ff0000","opacity":1},"encoding":{"x":{"field":"x","type":"quantitative"},"y":{"field":"y","type":"quantitative"}}},
          {"data":{"name":"l2"},"mark":{"type":"text","fontSize":8,"color":"#444","align":"left","baseline":"middle"},"encoding":{"x":{"datum":1.0},"y":{"field":"ly","type":"quantitative"},"text":{"field":"lab"}}}
         ]},
        {"width":149,"height":149,
         "title":{"text":["CD4 Early\u00a0\u00a0\u00a0\u00a0\u00a0\u00a0CD4 Tdys","\u00a0\u00a0\u00a0\u00a0\u00a0\u00a0\u00a0◂──────▸","\u00a0Pathway enrichment"],"fontSize":7,"fontWeight":"normal","lineHeight":6,"offset":3,"dx":-8,"color":"#222"},
         "view":{"stroke":"#444","strokeWidth":1.2},
         "layer":[
          {"data":{"name":"g3"},"mark":{"type":"circle","size":5,"color":"#c4c4c4","opacity":0.7},
           "encoding":{
            "x":{"field":"x","type":"quantitative","scale":{"domain":[-0.59,1.08],"nice":false,"zero":false},"axis":{"values":[-0.5,0,0.5,1],"format":".1f","labelFontSize":7.5,"labelColor":"#444","tickSize":2.5,"tickColor":"#444","domain":false,"title":"Pathway enrichment","titleFontSize":7,"titleFontWeight":"normal","titleColor":"#222","titlePadding":0,"labelPadding":1}},
            "y":{"field":"y","type":"quantitative","scale":{"domain":[-1.15,23.2],"nice":false,"zero":false},"axis":{"values":[0,5,10,15,20],"labelFontSize":7.5,"labelColor":"#444","tickSize":3,"tickColor":"#444","domain":false,"title":"-log10(adjusted p-value)","titleFontSize":7.5,"titleFontWeight":"normal","titleColor":"#222","titlePadding":1,"labelPadding":1}}
           }},
          {"data":{"values":[{}]},"mark":{"type":"rule","color":"#4f4fe8","strokeWidth":1.2,"strokeDash":[6,4]},"encoding":{"y":{"datum":1.3}}},
          {"data":{"name":"l3"},"mark":{"type":"rule","color":"#a6a6a6","strokeWidth":0.8},"encoding":{"x":{"field":"x","type":"quantitative"},"y":{"field":"y","type":"quantitative"},"x2":{"datum":0.97},"y2":{"field":"ly"}}},
          {"data":{"name":"r3"},"mark":{"type":"circle","size":13,"color":"#ff0000","opacity":1},"encoding":{"x":{"field":"x","type":"quantitative"},"y":{"field":"y","type":"quantitative"}}},
          {"data":{"name":"l3"},"mark":{"type":"text","fontSize":8,"color":"#444","align":"left","baseline":"middle"},"encoding":{"x":{"datum":1.0},"y":{"field":"ly","type":"quantitative"},"text":{"field":"lab"}}}
         ]},
        {"width":149,"height":149,
         "title":{"text":["CD4 Early\u00a0\u00a0\u00a0\u00a0CD4 TDT","\u00a0\u00a0\u00a0\u00a0\u00a0\u00a0\u00a0◂──────▸","\u00a0Pathway enrichment"],"fontSize":7,"fontWeight":"normal","lineHeight":6,"offset":3,"dx":-7,"color":"#222"},
         "view":{"stroke":"#444","strokeWidth":1.2},
         "layer":[
          {"data":{"name":"g4"},"mark":{"type":"circle","size":5,"color":"#c4c4c4","opacity":0.7},
           "encoding":{
            "x":{"field":"x","type":"quantitative","scale":{"domain":[-0.59,1.08],"nice":false,"zero":false},"axis":{"values":[-0.5,0,0.5,1],"format":".1f","labelFontSize":7.5,"labelColor":"#444","tickSize":2.5,"tickColor":"#444","domain":false,"title":"Pathway enrichment","titleFontSize":7,"titleFontWeight":"normal","titleColor":"#222","titlePadding":0,"labelPadding":1}},
            "y":{"field":"y","type":"quantitative","scale":{"domain":[-1.15,23.2],"nice":false,"zero":false},"axis":{"values":[0,5,10,15,20],"labelFontSize":7.5,"labelColor":"#444","tickSize":3,"tickColor":"#444","domain":false,"title":"-log10(adjusted p-value)","titleFontSize":7.5,"titleFontWeight":"normal","titleColor":"#222","titlePadding":1,"labelPadding":1}}
           }},
          {"data":{"values":[{}]},"mark":{"type":"rule","color":"#4f4fe8","strokeWidth":1.2,"strokeDash":[6,4]},"encoding":{"y":{"datum":1.3}}},
          {"data":{"name":"l4"},"mark":{"type":"rule","color":"#a6a6a6","strokeWidth":0.8},"encoding":{"x":{"field":"x","type":"quantitative"},"y":{"field":"y","type":"quantitative"},"x2":{"datum":0.97},"y2":{"field":"ly"}}},
          {"data":{"name":"r4"},"mark":{"type":"circle","size":13,"color":"#ff0000","opacity":1},"encoding":{"x":{"field":"x","type":"quantitative"},"y":{"field":"y","type":"quantitative"}}},
          {"data":{"name":"l4"},"mark":{"type":"text","fontSize":8,"color":"#444","align":"left","baseline":"middle"},"encoding":{"x":{"datum":1.0},"y":{"field":"ly","type":"quantitative"},"text":{"field":"lab"}}}
         ]}
      ],
      "columns":2,
      "spacing":{"row":46,"column":24},
      "bounds":"flush"
     }
    ],
    "spacing":0,"bounds":"flush"
   }
  ],
  "spacing":0,"bounds":"full",
  "resolve":{"scale":{"color":"independent"},"legend":{"color":"independent"}}
 }
],
"spacing":1,
"bounds":"full",
"resolve":{"scale":{"color":"independent"},"legend":{"color":"independent"}}
}
